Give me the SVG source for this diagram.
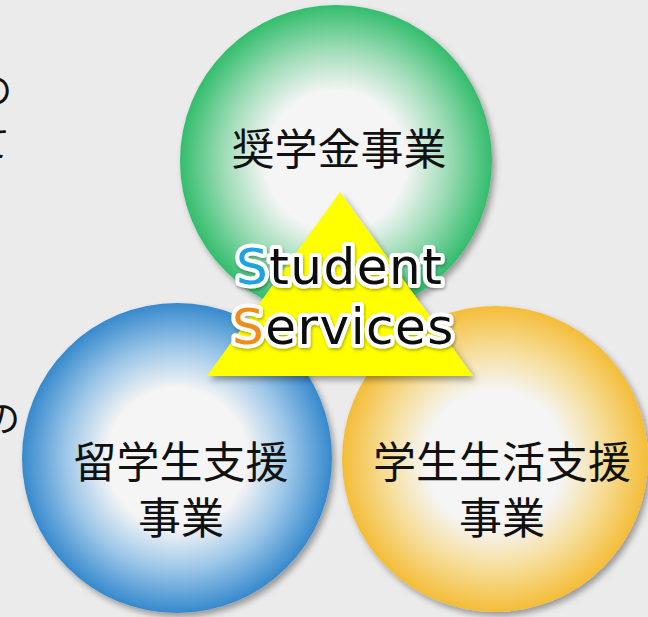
<svg xmlns="http://www.w3.org/2000/svg" width="648" height="617" viewBox="0 0 648 617">
<style>
.jp{font-family:"Noto Sans CJK JP","Noto Sans",sans-serif;font-size:43px;fill:#111;text-anchor:middle}
.edge{font-family:"Noto Sans CJK JP",sans-serif;font-size:36px;fill:#111}
.ss{font-family:"DejaVu Sans",Verdana,sans-serif;font-size:50px;fill:#111;stroke:#fff;stroke-width:8px;stroke-linejoin:round;paint-order:stroke;letter-spacing:1.5px}
</style>
<defs>
<radialGradient id="gG" cx="0.5" cy="0.5" r="0.5">
<stop offset="0" stop-color="#f5f5f5"/><stop offset="0.45" stop-color="#f5f5f5"/><stop offset="0.72" stop-color="#9ddcb6"/><stop offset="1" stop-color="#33bd6d"/>
</radialGradient>
<radialGradient id="gB" cx="0.5" cy="0.5" r="0.5">
<stop offset="0" stop-color="#f5f5f5"/><stop offset="0.45" stop-color="#f5f5f5"/><stop offset="0.72" stop-color="#9cc6e8"/><stop offset="1" stop-color="#3689cd"/>
</radialGradient>
<radialGradient id="gO" cx="0.5" cy="0.5" r="0.5">
<stop offset="0" stop-color="#f5f5f5"/><stop offset="0.45" stop-color="#f5f5f5"/><stop offset="0.72" stop-color="#f6dd98"/><stop offset="1" stop-color="#f4bd38"/>
</radialGradient>
<filter id="sh" x="-10%" y="-10%" width="125%" height="125%">
<feDropShadow dx="3" dy="4" stdDeviation="3" flood-color="#000" flood-opacity="0.35"/>
</filter>
<filter id="tsh" x="-10%" y="-10%" width="125%" height="130%">
<feDropShadow dx="1" dy="2" stdDeviation="1.5" flood-color="#000" flood-opacity="0.3"/>
</filter>
</defs>
<rect width="648" height="617" fill="#ebebeb"/>
<g id="edge-text">
<text class="edge" x="-24" y="104">の</text>
<text class="edge" x="-26" y="157">て</text>
<text class="edge" x="-16" y="432">の</text>
</g>
<g id="scholarship">
<circle cx="336" cy="161" r="156" fill="url(#gG)" filter="url(#sh)"/>
<text class="jp" x="339" y="165">奨学金事業</text>
</g>
<g id="intl">
<circle cx="177" cy="458" r="155" fill="url(#gB)" filter="url(#sh)"/>
<text class="jp" x="181" y="478">留学生支援</text>
<text class="jp" x="181" y="534">事業</text>
</g>
<g id="life">
<circle cx="495" cy="459" r="153" fill="url(#gO)" filter="url(#sh)"/>
<text class="jp" x="502" y="478">学生生活支援</text>
<text class="jp" x="502" y="534">事業</text>
</g>
<g id="connectors"></g>
<g id="center">
<polygon points="340,192 473,376 207,376" fill="#ffff00" filter="url(#sh)"/>
<g filter="url(#tsh)">
<text class="ss" x="236" y="284"><tspan fill="#1aa3e3">S</tspan>tudent</text>
<text class="ss" x="232" y="344"><tspan fill="#f08c1c">S</tspan>ervices</text>
</g>
</g>
</svg>
